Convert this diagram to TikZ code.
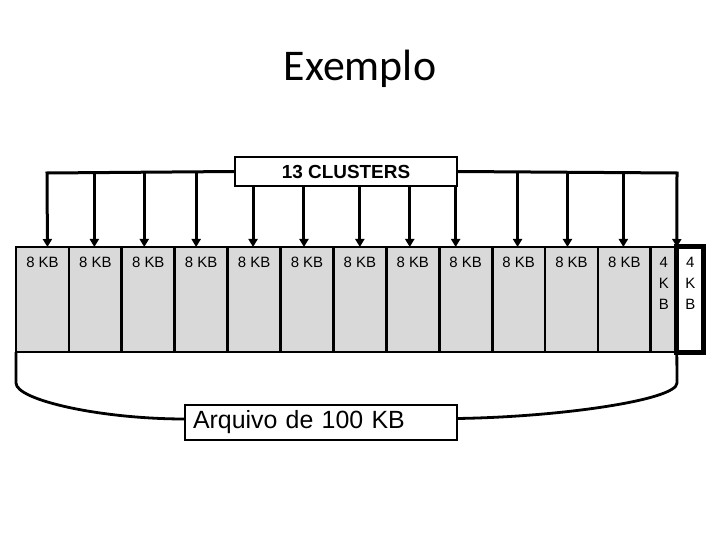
\documentclass[tikz,border=0pt]{standalone}
\usepackage{fontspec}
\setmainfont{Liberation Sans}
\newfontfamily\titlefont{Carlito}
\usepackage{tikz}
\usetikzlibrary{arrows.meta, positioning}
\usepackage{xcolor}
\definecolor{cellgray}{RGB}{217,217,217}

\begin{document}
\begin{tikzpicture}[x=1bp, y=-1bp,
  cell/.style={draw, line width=2.8bp, fill=cellgray, minimum width=52.9bp,
    minimum height=105bp, inner sep=0pt, outer sep=0pt},
  lbl/.style={anchor=north, yshift=-10bp, inner sep=0pt, align=center,
    font=\fontsize{15}{21}\selectfont},
  arr/.style={line width=3bp, -{Triangle[width=9bp,length=8bp]}},
  tag/.style={draw, line width=2.8bp, fill=white, inner sep=0pt, outer sep=0pt}]
  \useasboundingbox (0,0) rectangle (720,540);

  \node[font=\titlefont\fontsize{44}{44}\selectfont, anchor=base] (title) at (360,81) {Exemplo};

  % Clusters of the file
  \node[cell, anchor=north west, label={[lbl]north:8 KB}] (c1) at (16,247) {};
  \foreach \i [count=\j from 1] in {2,...,12}
    \node[cell, right=0pt of c\j, label={[lbl]north:8 KB}] (c\i) {};
  \node[cell, minimum width=26bp, right=0pt of c12, label={[lbl]north:4\\K\\B}] (c13) {};
  \node[cell, fill=white, line width=5bp, minimum width=27bp, right=0pt of c13,
    label={[lbl]north:4\\K\\B}] (c14) {};

  % 13 pointers
  \coordinate (busL) at (47,173);
  \coordinate (busR) at (677,173);
  \node[tag, minimum width=222bp, minimum height=29bp,
    font=\bfseries\fontsize{19}{19}\selectfont] (clusters) at (346,171.5) {13 CLUSTERS};
  \draw[arr] (clusters.west) -- (busL) -- ([xshift=5bp]c1.north);
  \draw[arr] (clusters.east) -- (busR) -- (c14.north west);
  \foreach \i/\dx in {2/-1, 3/-4, 4/-5, 10/-1, 11/-4, 12/-1}
    \draw[arr] ([xshift=\dx bp]c\i.north |- busL) -- ([xshift=\dx bp]c\i.north);
  \foreach \i/\dx in {5/-1, 6/-3, 7/0, 8/-3, 9/-10}
    \draw[arr] ([xshift=\dx bp]c\i.north |- clusters.south) -- ([xshift=\dx bp]c\i.north);

  % Brace under the file
  \node[tag, minimum height=35bp, text width=256bp, inner xsep=8bp, align=left,
    font=\fontsize{25}{25}\selectfont] (arquivo) at (321,422.5) {Arquivo de 100 KB};
  \draw[line width=2.8bp] (c1.south west) -- (16,383)
    .. controls (16,400) and (100,419) .. ([yshift=3.5bp]arquivo.west);
  \draw[line width=2.8bp] (c14.south west) -- (677,383)
    .. controls (677,400) and (560,417) .. ([yshift=4bp]arquivo.east);
\end{tikzpicture}
\end{document}
